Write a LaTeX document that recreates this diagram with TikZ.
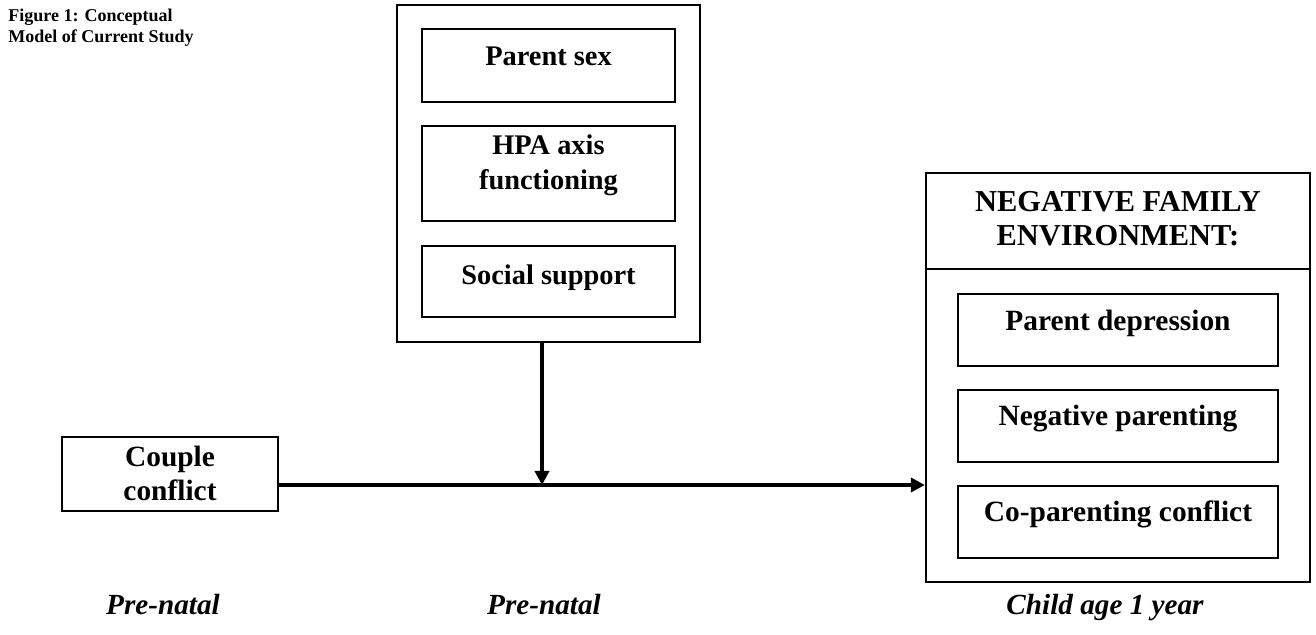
\documentclass[tikz,border=0pt]{standalone}
\usepackage{fontspec}
\setmainfont{Liberation Serif}
\usetikzlibrary{arrows.meta,calc}
\begin{document}
\begin{tikzpicture}[x=0.5pt,y=-0.5pt,
  box/.style={draw,line width=1.1pt,inner sep=0pt},
  txt/.style={font=\fontsize{14.7}{18}\selectfont\bfseries,anchor=base,inner sep=0pt},
  mtxt/.style={font=\fontsize{14.2}{18}\selectfont\bfseries,anchor=base,inner sep=0pt},
  lbl/.style={font=\fontsize{14.6}{18}\selectfont\bfseries\itshape,anchor=base,inner sep=0pt},
  arr/.style={line width=1.8pt,-{Triangle[length=7pt,width=7pt]}}]
\useasboundingbox (0,0) rectangle (1316,635);
% title
\node[font=\fontsize{9}{10.5}\selectfont\bfseries,align=left,anchor=north west,inner sep=0pt] (title) at (8,9) {Figure 1: Conceptual\\Model of Current Study};
% moderators
\node[box,minimum width=151.5pt,minimum height=168.5pt] (mod) at (548.5,173.5) {};
\node[box,minimum width=126.5pt,minimum height=36.5pt] (ps) at (548.5,65.5) {};
\node[box,minimum width=126.5pt,minimum height=47.5pt] (hpa) at (548.5,173.5) {};
\node[box,minimum width=126.5pt,minimum height=35.5pt] (ss) at (548.5,281.5) {};
\node[mtxt] (pst) at ($(ps.north)+(0,38)$) {Parent sex};
\node[mtxt] (hpat1) at ($(hpa.north)+(0,30)$) {HPA axis};
\node[mtxt] (hpat2) at ($(hpa.north)+(0,65)$) {functioning};
\node[mtxt] (sst) at ($(ss.north)+(0,40)$) {Social support};
% predictor
\node[box,minimum width=108pt,minimum height=37pt] (cc) at (170,474) {};
\node[txt] (cct1) at ($(cc.north)+(0,31)$) {Couple};
\node[txt] (cct2) at ($(cc.north)+(0,65)$) {conflict};
% outcome
\node[box,minimum width=192pt,minimum height=204.5pt] (out) at (1118,377.5) {};
\coordinate (hdr) at (1118,269);
\draw[line width=1.1pt] (out.west |- hdr) -- (out.east |- hdr);
\node[font=\fontsize{15.2}{17}\selectfont\bfseries,align=center,inner sep=0pt] (hdrt) at (1118,219) {NEGATIVE FAMILY\\ENVIRONMENT:};
\node[box,minimum width=160pt,minimum height=36pt] (pd) at (1118,330) {};
\node[box,minimum width=160pt,minimum height=36pt] (np) at (1118,426) {};
\node[box,minimum width=160pt,minimum height=36pt] (cp) at (1118,522) {};
\node[txt] (pdt) at ($(pd.north)+(0,38)$) {Parent depression};
\node[txt] (npt) at ($(np.north)+(0,37)$) {Negative parenting};
\node[txt] (cpt) at ($(cp.north)+(0,37)$) {Co-parenting conflict};
% connectors
\coordinate (join) at (542,485);
\draw[arr] (mod.south -| join) -- (join);
\draw[arr] (cc.east |- join) -- (out.west |- join);
% time labels
\node[lbl] (t1) at (163,614) {Pre-natal};
\node[lbl] (t2) at (544,614) {Pre-natal};
\node[lbl] (t3) at (1105,614) {Child age 1 year};
\end{tikzpicture}
\end{document}
